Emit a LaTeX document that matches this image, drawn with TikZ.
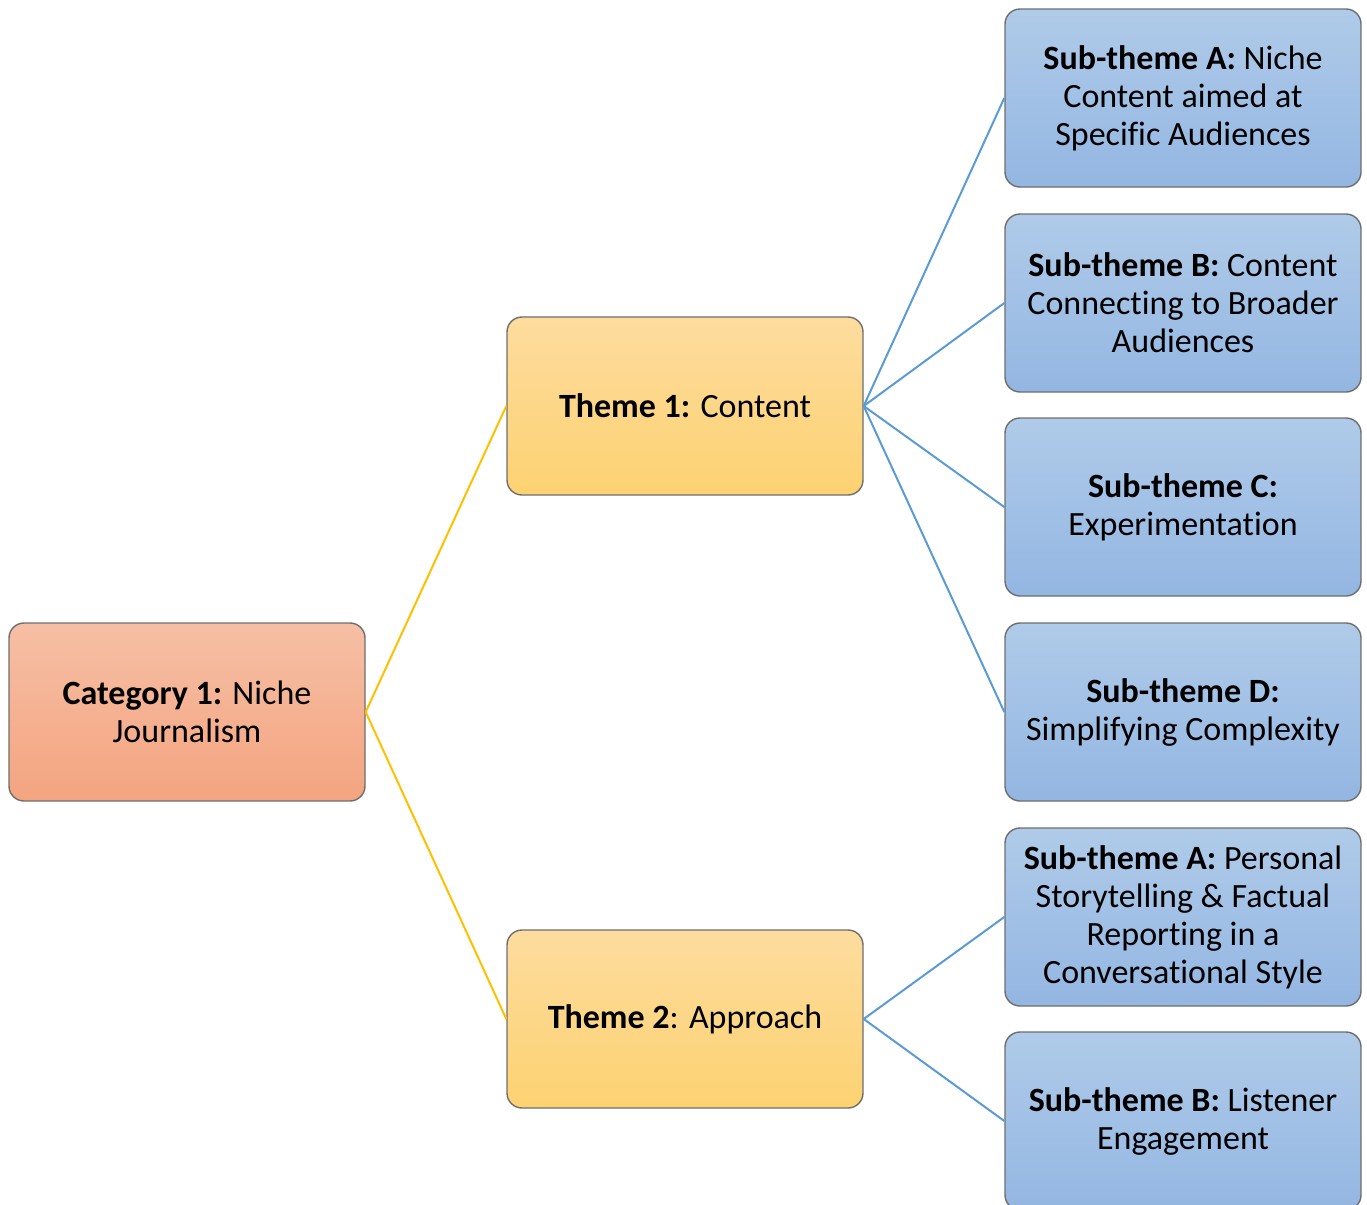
\documentclass[tikz,border=0pt]{standalone}
\usepackage{fontspec}
\setmainfont[Ligatures=NoCommon]{Carlito}
\definecolor{catTop}{HTML}{F6BFA5}
\definecolor{catBot}{HTML}{F4A480}
\definecolor{thmTop}{HTML}{FDDC9E}
\definecolor{thmBot}{HTML}{FDD272}
\definecolor{subTop}{HTML}{B0CBE9}
\definecolor{subBot}{HTML}{93B6E2}
\definecolor{edgeGrey}{HTML}{6E6E6E}
\definecolor{lineGold}{HTML}{FFC000}
\definecolor{lineBlue}{HTML}{5B9BD5}
\tikzset{
  box/.style={draw=edgeGrey, line width=0.7pt, rounded corners=7.5pt, minimum width=178pt, minimum height=89pt, align=center, inner sep=2pt, font=\fontsize{17}{19}\selectfont},
  catbox/.style={box, top color=catTop, bottom color=catBot},
  thmbox/.style={box, top color=thmTop, bottom color=thmBot},
  subbox/.style={box, top color=subTop, bottom color=subBot},
  gold/.style={draw=lineGold, line width=1pt},
  blue/.style={draw=lineBlue, line width=1pt}
}
\begin{document}
\begin{tikzpicture}[x=0.5pt, y=-0.5pt]
\useasboundingbox (0,0) rectangle (1367,1205);
\node[catbox] (cat) at (187, 712) {\textbf{Category 1:} Niche\\Journalism};
\node[thmbox] (t1) at (685, 406) {\textbf{Theme 1:} Content};
\node[thmbox] (t2) at (685, 1019) {\textbf{Theme 2}: Approach};
\node[subbox] (s1a) at (1183, 98) {\textbf{Sub-theme A:} Niche\\Content aimed at\\Specific Audiences};
\node[subbox] (s1b) at (1183, 303) {\textbf{Sub-theme B:} Content\\Connecting to Broader\\Audiences};
\node[subbox] (s1c) at (1183, 507) {\textbf{Sub-theme C:}\\Experimentation};
\node[subbox] (s1d) at (1183, 712) {\textbf{Sub-theme D:}\\Simplifying Complexity};
\node[subbox] (s2a) at (1183, 917) {\textbf{Sub-theme A:} Personal\\Storytelling \& Factual\\Reporting in a\\Conversational Style};
\node[subbox] (s2b) at (1183, 1121) {\textbf{Sub-theme B:} Listener\\Engagement};
\draw[gold] (cat.east) -- (t1.west);
\draw[gold] (cat.east) -- (t2.west);
\draw[blue] (t1.east) -- (s1a.west);
\draw[blue] (t1.east) -- (s1b.west);
\draw[blue] (t1.east) -- (s1c.west);
\draw[blue] (t1.east) -- (s1d.west);
\draw[blue] (t2.east) -- (s2a.west);
\draw[blue] (t2.east) -- (s2b.west);
\end{tikzpicture}
\end{document}
